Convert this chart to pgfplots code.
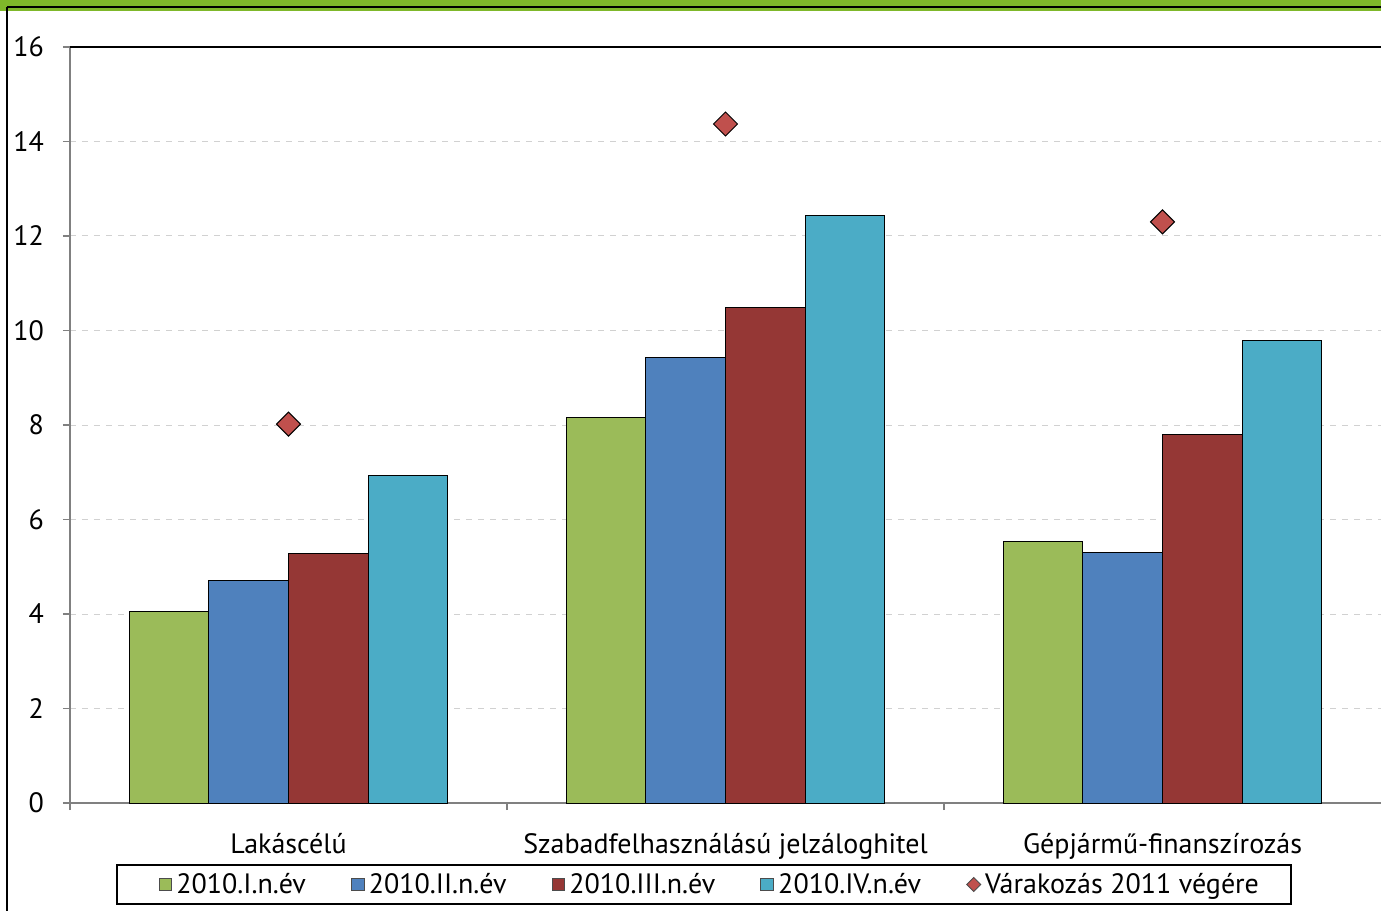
\documentclass[border=0pt]{standalone}
\usepackage{fontspec}
\setmainfont{PT Sans}
\usepackage{pgfplots}
\pgfplotsset{compat=1.18}

\definecolor{cGreen}{HTML}{9BBB59}
\definecolor{cBlue}{HTML}{4F81BD}
\definecolor{cRed}{HTML}{953735}
\definecolor{cCyan}{HTML}{4BACC6}
\definecolor{cDiam}{HTML}{C0504D}
\definecolor{cFrame}{HTML}{7FB82A}

\newcommand{\txtsize}{\fontsize{14}{16}\selectfont}
% legend swatch: square preceded by some empty room
\newcommand{\swatch}[1]{\path[draw=none, fill=none] (0pt,0pt) -- (7pt,0pt);
  \draw[fill=#1, draw=black!70, line width=0.5pt] (7pt,-3.2pt) rectangle (13.4pt,3.2pt);}

\begin{document}
\begin{tikzpicture}[x=0.5pt,y=0.5pt]
% page frame
\path[use as bounding box] (0,0) rectangle (1381,911);
\fill[cFrame] (0,911) rectangle (1381,900);
\draw[black, line width=1pt] (7,904) -- (1381,904);
\draw[black, line width=1pt] (7,904) -- (7,0);

\begin{axis}[
  at={(35pt,54pt)}, anchor=south west,
  scale only axis, width=655.5pt, height=378pt,
  xmin=-0.5, xmax=2.5, ymin=0, ymax=16,
  ytick={0,2,...,16},
  xtick={0,1,2},
  xticklabels={Lakáscélú, Szabadfelhasználású jelzáloghitel, Gépjármű-finanszírozás},
  minor xtick={-0.5,0.5,1.5},
  x tick style={draw=none},
  minor x tick style={draw=gray, line width=0.6pt},
  y tick style={draw=gray, line width=0.6pt},
  tick align=outside,
  major tick length=3.5pt, minor tick length=3.5pt,
  axis x line*=bottom, axis y line*=left,
  axis line style={draw=gray, line width=0.8pt},
  ymajorgrids,
  major grid style={dashed, draw=black!18, line width=0.5pt},
  /pgf/number format/assume math mode=true,
  tick label style={font=\txtsize},
  yticklabel style={xshift=-6pt},
  xticklabel style={yshift=-8pt},
  legend columns=5,
  legend style={at={(0.4836,-0.1078)}, anchor=center, draw=black, line width=0.6pt,
    font=\txtsize, inner xsep=14pt, inner ysep=2pt,
    /tikz/every even column/.append style={column sep=13.8pt}},
  legend cell align=left,
]
% bars per period
\addplot[ybar, bar width=0.182, bar shift=-0.273, fill=cGreen, draw=black, line width=0.5pt,
  legend image code/.code={\swatch{cGreen}}]
  coordinates {(0,4.06) (1,8.15) (2,5.54)};
\addlegendentry{2010.I.n.év}
\addplot[ybar, bar width=0.182, bar shift=-0.091, fill=cBlue, draw=black, line width=0.5pt,
  legend image code/.code={\swatch{cBlue}}]
  coordinates {(0,4.70) (1,9.42) (2,5.31)};
\addlegendentry{2010.II.n.év}
\addplot[ybar, bar width=0.182, bar shift=0.091, fill=cRed, draw=black, line width=0.5pt,
  legend image code/.code={\swatch{cRed}}]
  coordinates {(0,5.27) (1,10.48) (2,7.79)};
\addlegendentry{2010.III.n.év}
\addplot[ybar, bar width=0.182, bar shift=0.273, fill=cCyan, draw=black, line width=0.5pt,
  legend image code/.code={\swatch{cCyan}}]
  coordinates {(0,6.94) (1,12.44) (2,9.78)};
\addlegendentry{2010.IV.n.év}
% expectations for end of 2011
\addplot[only marks, mark=square*, mark size=4.24pt,
  mark options={rotate=45, fill=cDiam, draw=black, line width=0.5pt},
  legend image code/.code={\path[draw=none, fill=none] (0pt,0pt) -- (7pt,0pt);
    \draw[fill=cDiam, draw=black!70, line width=0.4pt] (7pt,0pt) -- (10.5pt,3.5pt) -- (14pt,0pt) -- (10.5pt,-3.5pt) -- cycle;}]
  coordinates {(0,8.02) (1,14.37) (2,12.30)};
\addlegendentry{Várakozás 2011 végére}

\draw[black, line width=1pt] (rel axis cs:0,1) -- (rel axis cs:1,1);
\node[anchor=south west, inner sep=0pt, font=\txtsize] at ([xshift=2.5pt,yshift=2pt]rel axis cs:0,1) {\%};
\end{axis}
\end{tikzpicture}
\end{document}
